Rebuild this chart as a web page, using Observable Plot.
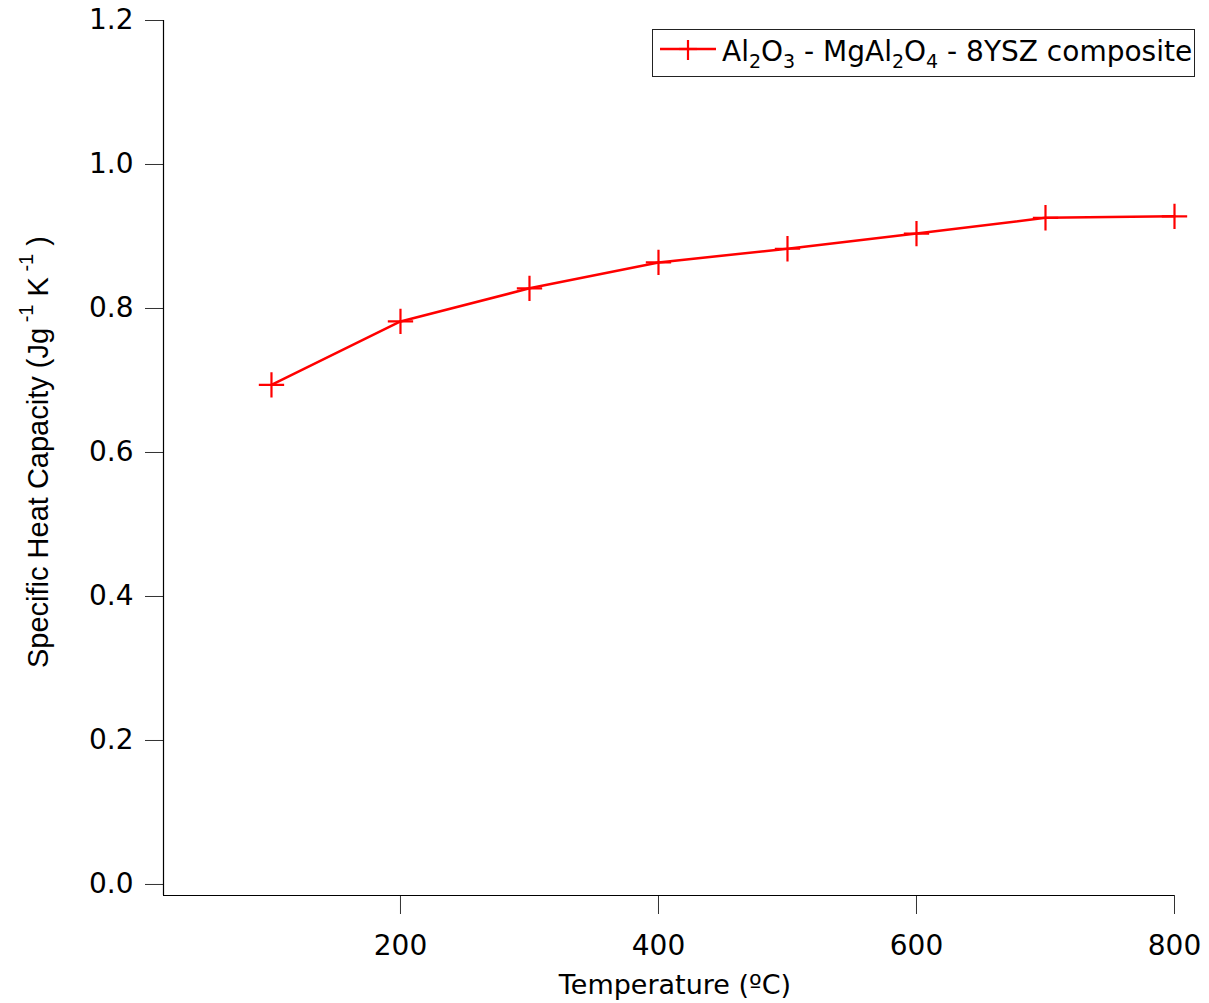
<!DOCTYPE html>
<html>
<head>
<meta charset="utf-8">
<script src="https://cdn.jsdelivr.net/npm/d3@7"></script>
<script src="https://cdn.jsdelivr.net/npm/@observablehq/plot@0.6"></script>
<style>
  html, body { margin: 0; padding: 0; background: #fff; }
  #wrap { position: relative; width: 1209px; height: 1003px; }
  #legend {
    position: absolute; left: 652px; top: 29px; width: 543px; height: 48px;
    border: 1px solid #222; background: #fff; box-sizing: border-box;
    font-family: "DejaVu Sans", sans-serif; font-size: 28px; color: #000;
  }
  #legend svg { position: absolute; left: 0; top: 0; }
  #legend .lbl { position: absolute; left: 69px; top: 4px; white-space: nowrap; line-height: 36px; }
  #legend sub { font-size: 19px; vertical-align: -7px; line-height: 0; }
</style>
</head>
<body>
<div id="wrap"></div>
<script>
// Data
const temperature = [100, 200, 300, 400, 500, 600, 700, 800];
const heatCapacity = [0.694, 0.782, 0.828, 0.864, 0.883, 0.904, 0.926, 0.928];
const xTicks = [200, 400, 600, 800];
const yTicks = [0.0, 0.2, 0.4, 0.6, 0.8, 1.0, 1.2];
const seriesName = "Al2O3 - MgAl2O4 - 8YSZ composite";
const xDomain = [16.3, 800];
const yDomain = [-0.0153, 1.2];

const data = temperature.map((t, i) => ({t, cp: heatCapacity[i]}));

const plot = Plot.plot({
  width: 1209,
  height: 1003,
  marginLeft: 163,
  marginRight: 35,
  marginTop: 20,
  marginBottom: 108,
  style: {fontFamily: "DejaVu Sans, sans-serif", fontSize: "28px", background: "#fff", color: "#000"},
  x: {domain: xDomain},
  y: {domain: yDomain},
  marks: [
    Plot.axisY({ticks: yTicks, tickSize: 18, tickPadding: 12, tickFormat: d3.format(".1f"), label: null, stroke: "#333"}),
    Plot.axisX({ticks: xTicks, tickSize: 19, tickPadding: 21, tickFormat: d3.format("d"), label: null, stroke: "#333"}),
    Plot.ruleX([xDomain[0]], {y1: yDomain[0], y2: yDomain[1], stroke: "#000", strokeWidth: 1.2}),
    Plot.ruleY([yDomain[0]], {x1: xDomain[0], x2: xDomain[1], stroke: "#000", strokeWidth: 1.2}),
    Plot.line(data, {x: "t", y: "cp", stroke: "#ff0000", strokeWidth: 2.5}),
    Plot.dot(data, {x: "t", y: "cp", symbol: "plus", r: 8.2, stroke: "#ff0000", strokeWidth: 2.2})
  ]
});

const wrap = document.getElementById("wrap");
wrap.appendChild(plot);

const svg = d3.select(plot);
// x label
svg.append("text")
  .attr("x", 675).attr("y", 994)
  .attr("text-anchor", "middle")
  .attr("font-family", "DejaVu Sans, sans-serif")
  .attr("font-size", 27)
  .attr("fill", "#000")
  .text("Temperature (ºC)");

// y label with superscripts
const yl = svg.append("text")
  .attr("transform", "translate(48,668) rotate(-90)")
  .attr("text-anchor", "start")
  .attr("font-family", "Liberation Sans, Arial, sans-serif")
  .attr("font-size", 29)
  .attr("fill", "#000");
yl.append("tspan").text("Specific Heat Capacity (Jg");
yl.append("tspan").attr("font-size", 20).attr("dy", -15).text(" -1");
yl.append("tspan").attr("dy", 15).text(" K");
yl.append("tspan").attr("font-size", 20).attr("dy", -15).text(" -1");
yl.append("tspan").attr("dy", 15).text(" )");

// legend
const leg = document.createElement("div");
leg.id = "legend";
leg.innerHTML = `<svg width="70" height="46"><line x1="7" x2="63" y1="19" y2="19" stroke="#ff0000" stroke-width="2.5"/><line x1="26" x2="44" y1="19" y2="19" stroke="#ff0000" stroke-width="2.2"/><line x1="35" x2="35" y1="10" y2="30" stroke="#ff0000" stroke-width="2.2"/></svg><span class="lbl">Al<sub>2</sub>O<sub>3</sub> - MgAl<sub>2</sub>O<sub>4</sub> - 8YSZ composite</span>`;
wrap.appendChild(leg);
</script>
</body>
</html>
